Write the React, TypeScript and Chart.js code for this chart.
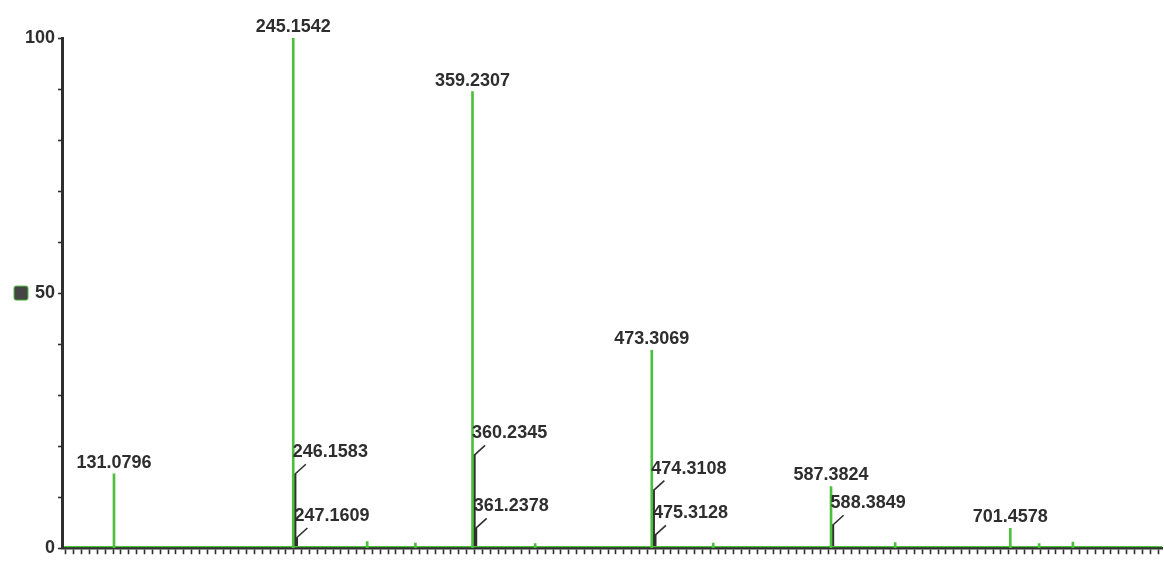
import React, { useEffect, useRef } from 'react';
import { Chart, registerables } from 'chart.js';

Chart.register(...registerables);

// Principal ions (m/z) and their relative abundance (%)
const baseMz = [131.0796, 245.1542, 359.2307, 473.3069, 587.3824, 701.4578];
const baseIntensity = [14.6, 100, 89.5, 38.8, 12.1, 3.9];

// Isotope ions, drawn in dark with a leader to their label
const isotopeMz = [246.1583, 247.1609, 360.2345, 361.2378, 474.3108, 475.3128, 588.3849];
const isotopeIntensity = [14.5, 2.0, 18.2, 3.9, 11.3, 2.5, 4.5];

// Small unlabelled signals along the baseline
const noiseMz = [292.2, 322.9, 399.1, 512.4, 628.2, 719.8, 741.3];
const noiseIntensity = [1.3, 1.0, 0.9, 1.0, 1.1, 0.9, 1.2];

// Axis settings
const mzMin = 98;
const mzMax = 798;
const yTickLabels = ['0', '50', '100'];

const GREEN = '#4cbf3c';
const DARK = '#2e2e2e';
const FONT = 'bold 18px "Liberation Sans", Arial, sans-serif';

const toPoints = (xs: number[], ys: number[]) => xs.map((x, i) => ({ x, y: ys[i] }));

const peakLabels = {
  id: 'peakLabels',
  afterDatasetsDraw(chart: any) {
    const { ctx, scales, chartArea } = chart;
    const xs = scales.x;
    const ys = scales.y;
    ctx.save();

    // green trace baseline running over the axis line
    ctx.strokeStyle = GREEN;
    ctx.lineWidth = 1.2;
    ctx.beginPath();
    ctx.moveTo(chartArea.left + 2, chartArea.bottom - 1.5);
    ctx.lineTo(chartArea.right, chartArea.bottom - 1.5);
    ctx.stroke();

    ctx.font = FONT;
    ctx.fillStyle = DARK;

    // labels centred above the principal ions
    ctx.textAlign = 'center';
    ctx.textBaseline = 'bottom';
    baseMz.forEach((mz, i) => {
      const px = xs.getPixelForValue(mz);
      const py = ys.getPixelForValue(baseIntensity[i]);
      ctx.fillText(mz.toFixed(4), px, py - 2);
    });

    // isotope labels with a short slanted leader
    ctx.textAlign = 'left';
    ctx.strokeStyle = DARK;
    ctx.lineWidth = 1.6;
    isotopeMz.forEach((mz, i) => {
      const px = xs.getPixelForValue(mz);
      const py = ys.getPixelForValue(isotopeIntensity[i]);
      ctx.beginPath();
      ctx.moveTo(px, py);
      ctx.lineTo(px + 11, py - 10);
      ctx.stroke();
      ctx.fillText(mz.toFixed(4), px - 2, py - 13);
    });

    // small marker beside the mid-scale label
    const my = ys.getPixelForValue(50);
    const mx = chartArea.left - 48;
    ctx.fillStyle = '#454545';
    ctx.strokeStyle = GREEN;
    ctx.lineWidth = 1;
    ctx.beginPath();
    ctx.roundRect(mx, my - 7, 14, 14, 2);
    ctx.fill();
    ctx.stroke();
    ctx.restore();
  },
};

export default function App() {
  const canvasRef = useRef<HTMLCanvasElement>(null);

  useEffect(() => {
    document.body.style.margin = '0';
    const canvas = canvasRef.current;
    if (!canvas) return;

    const chart = new Chart(canvas, {
      type: 'bar',
      data: {
        datasets: [
          {
            label: 'noise',
            data: toPoints(noiseMz, noiseIntensity),
            backgroundColor: GREEN,
            barThickness: 2,
            grouped: false,
          },
          {
            label: 'ions',
            data: toPoints(baseMz, baseIntensity),
            backgroundColor: GREEN,
            barThickness: 2,
            grouped: false,
          },
          {
            label: 'isotopes',
            data: toPoints(isotopeMz, isotopeIntensity),
            backgroundColor: DARK,
            barThickness: 2.5,
            grouped: false,
          },
        ],
      },
      options: {
        animation: false,
        responsive: false,
        maintainAspectRatio: false,
        layout: { padding: { top: 38, right: 2, left: 0, bottom: 0 } },
        plugins: {
          legend: { display: false },
          tooltip: { enabled: false },
        },
        scales: {
          x: {
            type: 'linear',
            min: mzMin,
            max: mzMax,
            offset: false,
            ticks: { display: false, stepSize: 5 },
            grid: {
              drawOnChartArea: false,
              drawTicks: true,
              tickLength: 6,
              tickColor: DARK,
              tickWidth: (c: any) => (c.tick && c.tick.value % 50 === 0 ? 2.5 : 1.6),
            },
            border: { color: DARK, width: 2.5 },
            afterFit: (s: any) => {
              s.height = 12;
            },
          },
          y: {
            min: 0,
            max: 100,
            ticks: {
              stepSize: 10,
              padding: 3,
              color: DARK,
              font: { family: '"Liberation Sans", Arial, sans-serif', size: 18, weight: 'bold' },
              callback: (v: any) => (yTickLabels.includes(String(v)) ? String(v) : ''),
            },
            grid: {
              drawOnChartArea: false,
              tickLength: 4,
              tickColor: DARK,
              tickWidth: 1.6,
            },
            border: { color: DARK, width: 3 },
            afterFit: (s: any) => {
              s.width = 62;
            },
          },
        },
      },
      plugins: [peakLabels],
    });

    return () => chart.destroy();
  }, []);

  return (
    <div style={{ width: 1164, height: 562, background: '#fff' }}>
      <canvas ref={canvasRef} width={1164} height={562} style={{ display: 'block' }} />
    </div>
  );
}
